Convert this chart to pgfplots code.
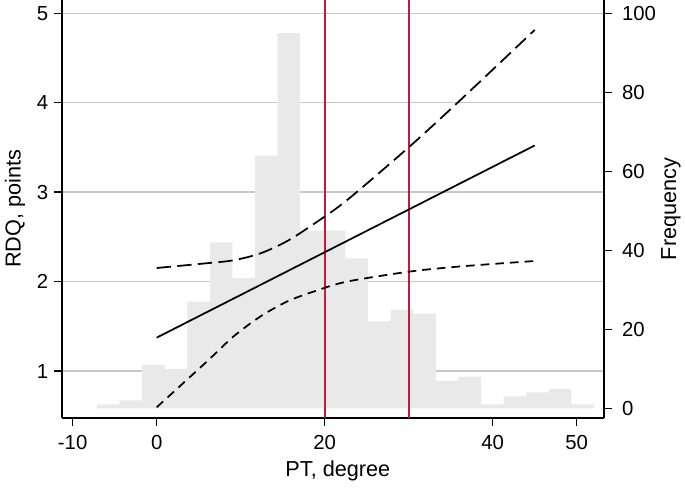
\documentclass[border=0pt]{standalone}
\usepackage{pgfplots}
\pgfplotsset{compat=1.18}
\usepackage{fontspec}
\setmainfont{Liberation Sans}

\definecolor{histgray}{RGB}{233,233,233}
\definecolor{gridgray}{RGB}{200,200,200}
\definecolor{cvred}{RGB}{198,24,62}

% histogram of PT: left bin edge, count
\pgfplotstableread{
x    n
-7.12 1
-4.43 2
-1.74 11
0.95  10
3.64  27
6.33  42
9.02  33
11.71 64
14.40 95
17.09 45
19.78 45
22.47 38
25.16 22
27.85 25
30.54 24
33.23 7
35.92 8
38.61 1
41.30 3
43.99 4
46.68 5
49.37 1
52.06 1
}\histdata

\pgfplotsset{
  base/.style={
    scale only axis, width=325.2pt, height=250.8pt,
    xmin=-11.27, xmax=53.25,
    at={(0,0)}, anchor=south west,
    /pgf/number format/assume math mode=true,
    tick label style={font=\fontsize{12.2}{14}\selectfont},
    label style={font=\fontsize{13}{15}\selectfont},
    axis line style={line width=0.8pt},
    tick style={black, line width=0.8pt},
  },
}

\begin{document}
\begin{tikzpicture}
\useasboundingbox (-37.2pt,-45.6pt) rectangle (373.8pt,250.8pt);

% left scale: frame, ticks and grid
\begin{axis}[base,
    ymin=0.4745, ymax=5.149,
    axis y line*=left, axis x line*=bottom,
    tick align=outside, major tick length=4.8pt,
    xtick={-10,0,20,40,50}, ytick={1,2,3,4,5},
    xticklabel style={yshift=-2.2pt},
    ymajorgrids, grid style={gridgray, line width=0.9pt},
    xlabel={PT, degree}, ylabel={RDQ, points},
    xlabel style={at={(axis description cs:0.509,-0.139)}, anchor=base},
    ylabel style={at={(axis description cs:-0.0867,0.5)}, anchor=center},
  ]
  \addplot[draw=none] coordinates {(0,1)};
\end{axis}

% right scale: histogram
\begin{axis}[base,
    ymin=-2.46, ymax=103.42,
    axis y line*=right, axis x line=none,
    tick align=outside, major tick length=4.8pt,
    ytick={0,20,40,60,80,100},
    yticklabel style={xshift=2.5pt},
    ylabel={Frequency},
    ylabel style={at={(axis description cs:1.1236,0.5)}, anchor=center},
  ]
  \addplot[ybar interval, fill=histgray, draw=none] table[x=x, y=n] {\histdata};
\end{axis}

% left scale again: fit, confidence band, cut-offs
\begin{axis}[base, ymin=0.4745, ymax=5.149, axis lines=none]
  \addplot[cvred, line width=1pt] coordinates {(20,0.4745) (20,5.149)};
  \addplot[cvred, line width=1pt] coordinates {(30,0.4745) (30,5.149)};
  \addplot[black, line width=1.05pt] coordinates {(0,1.373) (45,3.522)};
  \addplot[black, line width=1.05pt, smooth, dash pattern=on 8.6pt off 3.8pt] coordinates {
    (0,2.152) (5.95,2.205) (9.12,2.238) (12.3,2.314) (15.48,2.450)
    (18.64,2.640) (22.62,2.908) (29.95,3.497) (35,3.929) (40,4.370) (45,4.814)
  };
  \addplot[black, line width=1.05pt, smooth, dash pattern=on 5.2pt off 3.6pt] coordinates {
    (0,0.594) (5.95,1.104) (9.12,1.384) (12.3,1.607) (15.48,1.775)
    (18.64,1.887) (22.62,1.999) (29.95,2.110) (35,2.160) (40,2.197) (45,2.230)
  };
\end{axis}
\end{tikzpicture}
\end{document}
